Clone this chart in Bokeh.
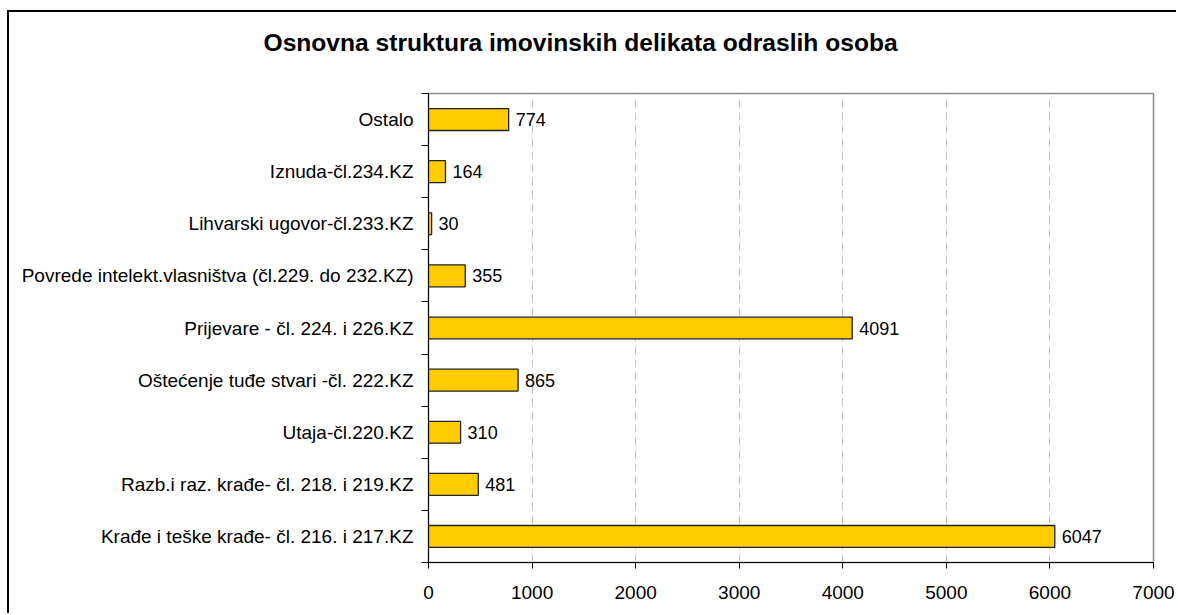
from bokeh.plotting import figure
from bokeh.models import FixedTicker, ColumnDataSource, Range1d, Title
from bokeh.core.properties import value
from bokeh.embed import file_html
from bokeh.resources import INLINE

title_text = "Osnovna struktura imovinskih delikata odraslih osoba"
categories = [
    "Krađe i teške krađe- čl. 216. i 217.KZ",
    "Razb.i raz. krađe- čl. 218. i 219.KZ",
    "Utaja-čl.220.KZ",
    "Oštećenje tuđe stvari -čl. 222.KZ",
    "Prijevare - čl. 224. i 226.KZ",
    "Povrede intelekt.vlasništva (čl.229. do 232.KZ)",
    "Lihvarski ugovor-čl.233.KZ",
    "Iznuda-čl.234.KZ",
    "Ostalo",
]
values = [6047, 481, 310, 865, 4091, 355, 30, 164, 774]
x_ticks = [0, 1000, 2000, 3000, 4000, 5000, 6000, 7000]

FONT = "Liberation Sans"

ypos = [i + 0.5 for i in range(len(categories))]
src = ColumnDataSource(dict(y=ypos, v=values, lbl=[str(v) for v in values]))

p = figure(width=1169, height=603, output_backend="svg", toolbar_location=None,
           title=None,
           x_range=Range1d(0, 7000), y_range=Range1d(0, len(categories)),
           min_border_left=419, min_border_right=25, min_border_top=81,
           min_border_bottom=53)

p.styles = {"margin-left": "7px", "margin-top": "10px",
            "border-left": "2px solid black", "border-top": "2px solid black"}

spacer = Title(text=" ", text_font_size="12px", standoff=22)
p.add_layout(spacer, "above")
title = Title(text=title_text, align="left", offset=-165, vertical_align="bottom",
              standoff=0, text_font=FONT, text_font_size="24.6px",
              text_font_style="bold", text_color="black")
p.add_layout(title, "above")

p.background_fill_color = "white"
p.border_fill_color = "white"
p.outline_line_color = "#8a8a8a"
p.outline_line_width = 1.5

p.hbar(y="y", right="v", left=0, height=0.42, source=src,
       fill_color="#FFCC00", line_color="#222222", line_width=1.3)
p.text(x="v", y="y", text="lbl", source=src, x_offset=7,
       text_baseline="middle", text_align="left",
       text_font=value(FONT), text_font_size="18px", text_color="black")

xa = p.xaxis[0]
xa.ticker = FixedTicker(ticks=x_ticks)
xa.major_tick_out = 6
xa.major_tick_in = 0
xa.minor_tick_out = 0
xa.minor_tick_in = 0
xa.axis_line_color = "black"
xa.major_tick_line_color = "black"
xa.major_label_text_font = FONT
xa.major_label_text_font_size = "19px"
xa.major_label_text_color = "black"
xa.major_label_standoff = 17

ya = p.yaxis[0]
ya.ticker = FixedTicker(ticks=ypos, minor_ticks=list(range(len(categories) + 1)))
ya.major_label_overrides = {yp: c for yp, c in zip(ypos, categories)}
ya.major_tick_line_color = None
ya.major_tick_out = 0
ya.major_tick_in = 0
ya.minor_tick_out = 7
ya.minor_tick_in = 0
ya.minor_tick_line_color = "black"
ya.axis_line_color = "black"
ya.major_label_text_font = FONT
ya.major_label_text_font_size = "19px"
ya.major_label_text_color = "black"
ya.major_label_standoff = 8

p.ygrid.grid_line_color = None
p.xgrid.ticker = FixedTicker(ticks=x_ticks[1:-1])
p.xgrid.grid_line_color = "#c4c4c4"
p.xgrid.grid_line_dash = "8 5"
p.xgrid.grid_line_width = 1

open("out.html", "w").write(file_html(p, INLINE))
